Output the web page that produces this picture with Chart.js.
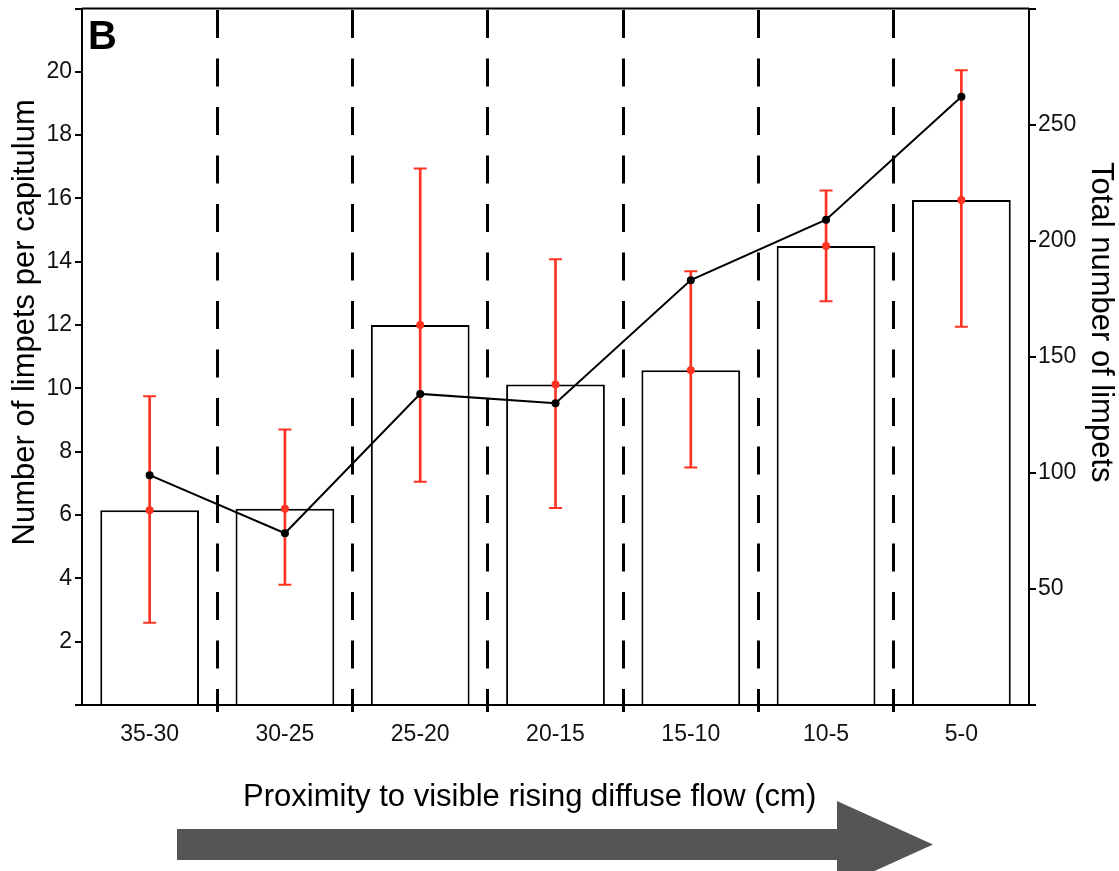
<!DOCTYPE html>
<html lang="en">
<head>
    <meta charset="UTF-8">
    <title>limpets</title>
    <script src="https://cdn.jsdelivr.net/npm/chart.js"></script>
    <style>
        body { margin: 0; background: #fff; }
        #wrap { width: 1119px; height: 871px; position: relative; }
    </style>
</head>
<body>
    <div id="wrap"><canvas id="limpetChart"></canvas></div>
    <script>
        // data
        const categories = ['35-30', '30-25', '25-20', '20-15', '15-10', '10-5', '5-0'];
        const meanPerCapitulum = [6.15, 6.2, 12.0, 10.12, 10.57, 14.5, 15.95];
        const errLow = [2.6, 3.8, 7.05, 6.22, 7.5, 12.75, 11.95];
        const errHigh = [9.75, 8.7, 16.95, 14.08, 13.7, 16.25, 20.05];
        const totalLimpets = [99, 74, 134, 130, 183, 209, 262];

        const FONT = '"Liberation Sans", Arial, sans-serif';
        const RED = '#ff3322';
        // titles sit a bit off the axis centre in the figure, padded with spaces
        const pad = n => ' '.repeat(n);

        // top border, panel letter and the arrow under the axis
        const extras = {
            id: 'extras',
            afterDraw(chart) {
                const { ctx, chartArea: a } = chart;
                ctx.save();
                ctx.strokeStyle = '#000';
                ctx.lineWidth = 2;
                ctx.beginPath();
                ctx.moveTo(a.left, a.top);
                ctx.lineTo(a.right, a.top);
                ctx.stroke();

                ctx.fillStyle = '#000';
                ctx.font = 'bold 40px ' + FONT;
                ctx.textBaseline = 'alphabetic';
                ctx.fillText('B', a.left + 6, a.top + 40);

                ctx.fillStyle = '#555555';
                ctx.beginPath();
                ctx.moveTo(177, 829);
                ctx.lineTo(837, 829);
                ctx.lineTo(837, 801);
                ctx.lineTo(933, 844.5);
                ctx.lineTo(837, 888);
                ctx.lineTo(837, 860);
                ctx.lineTo(177, 860);
                ctx.closePath();
                ctx.fill();
                ctx.restore();
            }
        };

        const inner = c => (c.index !== undefined && c.index > 0) ? '#000' : 'rgba(0,0,0,0)';

        new Chart(document.getElementById('limpetChart'), {
            type: 'bar',
            data: {
                labels: categories,
                datasets: [
                    {
                        label: 'mean per capitulum',
                        data: meanPerCapitulum,
                        backgroundColor: '#fff',
                        borderColor: '#000',
                        borderWidth: 2,
                        barPercentage: 0.73,
                        categoryPercentage: 1,
                        grouped: false,
                        yAxisID: 'y',
                        order: 6
                    },
                    {
                        label: 'range',
                        data: errLow.map((lo, i) => [lo, errHigh[i]]),
                        backgroundColor: RED,
                        borderWidth: 0,
                        barThickness: 2,
                        grouped: false,
                        yAxisID: 'y',
                        order: 5
                    },
                    {
                        type: 'line',
                        label: 'upper',
                        data: errHigh,
                        showLine: false,
                        pointStyle: 'line',
                        pointRadius: 6.5,
                        pointBorderWidth: 2,
                        pointBorderColor: RED,
                        yAxisID: 'y',
                        order: 4
                    },
                    {
                        type: 'line',
                        label: 'lower',
                        data: errLow,
                        showLine: false,
                        pointStyle: 'line',
                        pointRadius: 6.5,
                        pointBorderWidth: 2,
                        pointBorderColor: RED,
                        yAxisID: 'y',
                        order: 4
                    },
                    {
                        type: 'line',
                        label: 'mean',
                        data: meanPerCapitulum,
                        showLine: false,
                        pointRadius: 4,
                        pointBorderWidth: 0,
                        pointBackgroundColor: RED,
                        yAxisID: 'y',
                        order: 3
                    },
                    {
                        type: 'line',
                        label: 'total',
                        data: totalLimpets,
                        borderColor: '#000',
                        borderWidth: 2,
                        tension: 0,
                        pointRadius: 4,
                        pointBorderWidth: 0,
                        pointBackgroundColor: '#000',
                        yAxisID: 'y1',
                        order: 2
                    }
                ]
            },
            options: {
                responsive: true,
                maintainAspectRatio: false,
                animation: false,
                layout: { padding: { top: 8, left: 0, right: 0, bottom: 0 } },
                plugins: {
                    legend: { display: false },
                    tooltip: { enabled: false }
                },
                scales: {
                    x: {
                        offset: true,
                        afterFit(s) { s.height = 166; },
                        border: { color: '#000', width: 2, dash: [28, 20.5], dashOffset: -1.5 },
                        grid: {
                            offset: true,
                            color: inner,
                            tickColor: inner,
                            lineWidth: 3,
                            tickWidth: 3,
                            tickLength: 7
                        },
                        ticks: {
                            color: '#111',
                            padding: 9,
                            font: { family: FONT, size: 23 }
                        },
                        title: {
                            display: true,
                            text: 'Proximity to visible rising diffuse flow (cm)' + pad(6),
                            color: '#000',
                            font: { family: FONT, size: 31 },
                            padding: { top: 0, bottom: 55 }
                        }
                    },
                    y: {
                        position: 'left',
                        min: 0,
                        max: 22,
                        afterFit(s) { s.width = 82; s.paddingTop = 0; s.paddingBottom = 0; },
                        border: { color: '#000', width: 2 },
                        grid: {
                            drawOnChartArea: false,
                            color: '#000',
                            tickLength: 7,
                            lineWidth: 2
                        },
                        ticks: {
                            stepSize: 2,
                            padding: 3,
                            color: '#111',
                            font: { family: FONT, size: 23 },
                            callback: v => (v === 0 || v === 22) ? '' : v
                        },
                        title: {
                            display: true,
                            text: pad(8) + 'Number of limpets per capitulum',
                            color: '#000',
                            font: { family: FONT, size: 31 },
                            padding: { top: 7, bottom: 0 }
                        }
                    },
                    y1: {
                        position: 'right',
                        min: 0,
                        max: 300,
                        afterFit(s) { s.width = 90; s.paddingTop = 0; s.paddingBottom = 0; },
                        border: { color: '#000', width: 2 },
                        grid: {
                            drawOnChartArea: false,
                            color: '#000',
                            tickLength: 7,
                            lineWidth: 2
                        },
                        ticks: {
                            stepSize: 50,
                            padding: 2,
                            color: '#111',
                            font: { family: FONT, size: 23 },
                            callback: v => (v === 0 || v === 300) ? '' : v
                        },
                        title: {
                            display: true,
                            text: 'Total number of limpets' + pad(8),
                            color: '#000',
                            font: { family: FONT, size: 31 },
                            padding: { top: 0, bottom: 0 }
                        }
                    }
                }
            },
            plugins: [extras]
        });
    </script>
</body>
</html>
